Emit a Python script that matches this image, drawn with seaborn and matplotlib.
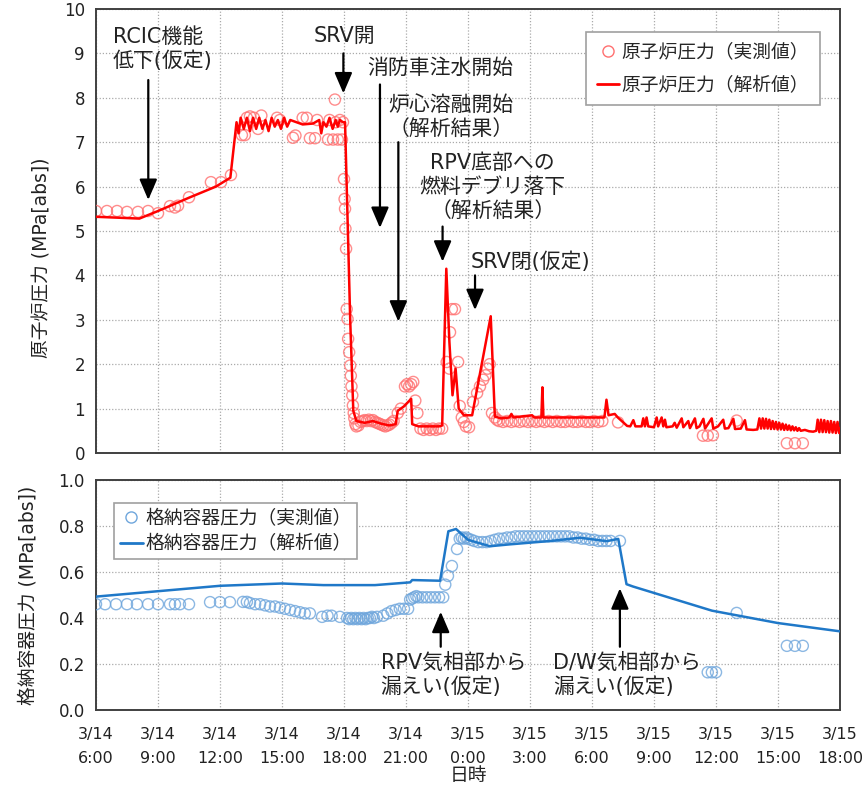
import numpy as np
import pandas as pd
import matplotlib
matplotlib.use("Agg")
import matplotlib.pyplot as plt
from matplotlib.lines import Line2D
import seaborn as sns

# ---------------- data (time in hours from 3/14 0:00) ----------------
xtick_hours = [6, 9, 12, 15, 18, 21, 24, 27, 30, 33, 36, 39, 42]
xtick_labels = ["3/14\n6:00", "3/14\n9:00", "3/14\n12:00", "3/14\n15:00", "3/14\n18:00",
                "3/14\n21:00", "3/15\n0:00", "3/15\n3:00", "3/15\n6:00", "3/15\n9:00",
                "3/15\n12:00", "3/15\n15:00", "3/15\n18:00"]

# reactor pressure, analysis
rpa_t = [6.0, 8.1, 9.0, 10.5, 11.8, 12.5, 12.8, 12.9, 13.0, 13.15, 13.3, 13.45, 13.6, 13.75,
         13.9, 14.05, 14.2, 14.35, 14.5, 14.65, 14.8, 14.95, 15.1, 15.25, 15.4, 15.7, 16.0,
         16.5, 16.8, 16.9, 17.0, 17.15, 17.3, 17.45, 17.6, 17.7, 17.8, 17.95, 18.05, 18.3,
         18.45, 18.6, 19.0, 19.4, 19.8, 20.2, 20.5, 20.6, 20.9, 21.25, 21.3, 21.6, 22.6,
         22.75, 22.95, 23.1, 23.25, 23.4, 23.55, 23.8, 24.2, 25.1, 25.3, 25.6, 26.0, 26.1,
         26.2, 27.1, 27.2, 27.55, 27.6, 27.65, 28.5, 29.5, 30.6, 30.7, 30.8, 31.1, 31.25,
         31.7, 31.85, 32.0, 32.1, 32.4, 32.48, 32.56, 32.64, 32.72, 33.0, 33.13, 33.2,
         33.37, 33.45, 33.53, 33.6, 33.9, 34.0, 34.1, 34.34, 34.42, 34.66, 34.74, 34.98,
         35.06, 35.2, 35.39, 35.47, 35.79, 35.87, 36.1, 36.35, 36.43, 36.6, 36.84, 36.92,
         37.2, 37.4, 37.48, 37.8, 38.0, 38.1, 38.18, 38.26, 38.34, 38.42, 38.5, 38.58,
         38.66, 38.74, 38.82, 38.9, 38.98, 39.06, 39.14, 39.22, 39.3, 39.38, 39.46, 39.54,
         39.62, 39.7, 39.78, 39.86, 39.94, 40.02, 40.1, 40.3, 40.5, 40.7, 40.85, 40.92,
         41.0, 41.08, 41.16, 41.24, 41.32, 41.4, 41.48, 41.56, 41.64, 41.72, 41.8, 41.88,
         41.96, 42.0]
rpa_v = [5.32, 5.28, 5.45, 5.75, 6.0, 6.2, 7.45, 7.2, 7.55, 7.3, 7.55, 7.25, 7.55, 7.3,
         7.55, 7.3, 7.5, 7.25, 7.55, 7.35, 7.5, 7.3, 7.55, 7.35, 7.5, 7.45, 7.4,
         7.42, 7.5, 7.2, 7.45, 7.35, 7.55, 7.3, 7.5, 7.35, 7.5, 7.45, 7.45, 3.0,
         0.95, 0.72, 0.68, 0.72, 0.66, 0.62, 0.65, 0.95, 1.05, 1.22, 0.65, 0.6, 0.6,
         0.62, 4.15, 2.5, 1.3, 1.9, 1.0, 0.85, 0.85, 3.08, 0.82, 0.78, 0.8, 0.88,
         0.8, 0.85, 0.8, 0.8, 1.48, 0.8, 0.8, 0.8, 0.8, 1.2, 0.85, 0.88, 0.8,
         0.61, 0.6, 0.74, 0.6, 0.6, 0.78, 0.6, 0.8, 0.6, 0.58, 0.8, 0.6,
         0.8, 0.6, 0.75, 0.58, 0.6, 0.68, 0.57, 0.78, 0.58, 0.72, 0.56, 0.78,
         0.56, 0.6, 0.77, 0.55, 0.78, 0.55, 0.6, 0.75, 0.55, 0.56, 0.77, 0.54,
         0.55, 0.74, 0.53, 0.52, 0.53, 0.78, 0.55, 0.78, 0.55, 0.77, 0.55, 0.75,
         0.54, 0.72, 0.54, 0.7, 0.53, 0.68, 0.53, 0.66, 0.52, 0.64, 0.52, 0.62,
         0.51, 0.6, 0.51, 0.58, 0.5, 0.56, 0.5, 0.52, 0.49, 0.48, 0.5, 0.75,
         0.47, 0.75, 0.47, 0.74, 0.47, 0.72, 0.46, 0.72, 0.46, 0.7, 0.45, 0.7,
         0.45, 0.55]

# reactor pressure, measured
rpm_t = [6.0, 6.53, 7.02, 7.5, 8.03, 8.52, 9.0, 9.58, 9.82, 9.97, 10.5, 11.56, 12.05, 12.53,
         13.06, 13.2, 13.3, 13.45, 13.64, 13.84, 14.0, 14.76, 14.9, 15.53, 15.65, 16.0, 16.2,
         16.35, 16.6, 16.7, 17.23, 17.3, 17.47, 17.56, 17.6, 17.7, 17.8, 17.9, 17.95,
         18.0, 18.03, 18.05, 18.07, 18.1, 18.13, 18.17, 18.2, 18.25, 18.3, 18.33, 18.36,
         18.4, 18.43, 18.47, 18.5, 18.55, 18.6,
         18.7, 18.8, 18.9, 19.0, 19.1, 19.2, 19.3, 19.4, 19.5, 19.6, 19.7, 19.8, 19.9, 20.0,
         20.1, 20.2, 20.3, 20.4, 20.6, 20.75, 20.95, 21.05, 21.15, 21.25, 21.35, 21.45, 21.55,
         21.7, 21.85, 22.0, 22.15, 22.3, 22.45, 22.6, 22.75,
         22.97, 23.1, 23.13, 23.22, 23.37, 23.52, 23.6, 23.7, 23.8, 23.9, 24.05,
         24.24, 24.44, 24.58, 24.73, 24.85, 24.95, 25.05, 25.16, 25.3, 25.4,
         25.5, 25.7, 25.9, 26.1, 26.3, 26.5, 26.7, 26.9, 27.1, 27.3, 27.5, 27.7, 27.9, 28.1,
         28.3, 28.5, 28.7, 28.9, 29.1, 29.3, 29.5, 29.7, 29.9, 30.1, 30.3, 30.5, 31.26,
         35.37, 35.6, 35.85, 37.0, 39.43, 39.82, 40.2]
rpm_v = [5.45, 5.45, 5.45, 5.43, 5.43, 5.45, 5.4, 5.56, 5.53, 5.57, 5.76, 6.1, 6.1, 6.26,
         7.16, 7.16, 7.55, 7.58, 7.55, 7.3, 7.6, 7.55, 7.5, 7.1, 7.15, 7.55, 7.55,
         7.09, 7.09, 7.5, 7.06, 7.5, 7.06, 7.96, 7.45, 7.06, 7.5, 7.06, 7.45,
         6.17, 5.72, 5.5, 5.05, 4.6, 3.24, 3.02, 2.57, 2.27, 1.97, 1.74, 1.5,
         1.3, 1.07, 0.9, 0.78, 0.65, 0.6,
         0.62, 0.7, 0.72, 0.74, 0.72, 0.75, 0.72, 0.74, 0.7, 0.68, 0.66, 0.64, 0.62, 0.6,
         0.62, 0.64, 0.68, 0.72, 0.9, 1.0, 1.5, 1.55, 1.5, 1.55, 1.6, 1.18, 0.9,
         0.55, 0.52, 0.55, 0.52, 0.55, 0.52, 0.55, 0.55,
         2.05, 1.9, 2.72, 3.24, 3.24, 2.05, 1.06, 0.8, 0.7, 0.6, 0.58,
         1.15, 1.35, 1.5, 1.65, 1.75, 1.9, 2.0, 0.9, 0.8, 0.75,
         0.72, 0.7, 0.72, 0.7, 0.72, 0.7, 0.72, 0.7, 0.72, 0.7, 0.72, 0.7, 0.72, 0.7,
         0.72, 0.7, 0.7, 0.72, 0.7, 0.7, 0.72, 0.7, 0.7, 0.72, 0.7, 0.72, 0.69,
         0.39, 0.39, 0.4, 0.73, 0.22, 0.22, 0.22]

# containment pressure, analysis
cpa_t = [6.0, 12.0, 15.0, 17.0, 19.5, 21.2, 21.3, 22.65, 23.05, 23.42, 24.0, 25.06, 26.0,
         28.0, 29.42, 30.71, 31.27, 31.67, 31.98, 35.8, 39.0, 42.0]
cpa_v = [0.493, 0.54, 0.55, 0.543, 0.543, 0.555, 0.565, 0.562, 0.777, 0.787, 0.74, 0.712, 0.72,
         0.735, 0.749, 0.734, 0.744, 0.547, 0.537, 0.432, 0.378, 0.342]

# containment pressure, measured
cpm_t = [6.0, 6.44, 6.97, 7.5, 7.98, 8.52, 9.0, 9.58, 9.82, 10.06, 10.5, 11.52, 12.0, 12.48,
         13.11, 13.3, 13.45, 13.7, 13.94, 14.18, 14.42, 14.66, 14.9, 15.14, 15.39, 15.63,
         15.87, 16.1, 16.35, 16.94, 17.2, 17.4, 17.8,
         18.15, 18.25, 18.35, 18.45, 18.55, 18.65, 18.75, 18.85, 18.95, 19.05, 19.15, 19.25,
         19.35, 19.45, 19.6, 19.9, 20.1, 20.3, 20.5, 20.7, 20.9, 21.1,
         21.2, 21.3, 21.4, 21.5, 21.6, 21.8, 22.0, 22.2, 22.4, 22.6, 22.8,
         22.9, 23.03, 23.22, 23.47, 23.6, 23.7, 23.8, 23.9, 24.0, 24.15, 24.3, 24.5, 24.7,
         24.9, 25.1, 25.3, 25.5, 25.7, 25.9, 26.1, 26.3, 26.5, 26.7, 26.9, 27.1, 27.3, 27.5,
         27.7, 27.9, 28.1, 28.3, 28.5, 28.7, 28.9, 29.1, 29.3, 29.5, 29.7, 29.9, 30.1, 30.3,
         30.5, 30.7, 30.9, 31.35,
         35.6, 35.8, 36.0, 37.0, 39.43, 39.82, 40.2]
cpm_v = [0.46, 0.46, 0.46, 0.46, 0.46, 0.46, 0.46, 0.46, 0.46, 0.46, 0.46, 0.469, 0.469, 0.469,
         0.47, 0.47, 0.465, 0.46, 0.46, 0.455, 0.45, 0.45, 0.445, 0.44, 0.435, 0.43,
         0.425, 0.42, 0.42, 0.405, 0.41, 0.41, 0.405,
         0.40, 0.395, 0.40, 0.395, 0.40, 0.395, 0.40, 0.395, 0.40, 0.395, 0.40, 0.40,
         0.405, 0.40, 0.405, 0.41, 0.42, 0.43, 0.435, 0.44, 0.44, 0.44,
         0.48, 0.485, 0.49, 0.495, 0.49, 0.49, 0.49, 0.49, 0.49, 0.49, 0.49,
         0.545, 0.583, 0.626, 0.70, 0.745, 0.75, 0.745, 0.75, 0.745, 0.74, 0.735, 0.73, 0.73,
         0.73, 0.735, 0.74, 0.745, 0.745, 0.75, 0.75, 0.755, 0.755, 0.755, 0.755, 0.755, 0.755, 0.755,
         0.755, 0.755, 0.755, 0.755, 0.755, 0.755, 0.755, 0.75, 0.75, 0.745, 0.745, 0.74, 0.74, 0.735,
         0.735, 0.735, 0.735, 0.735,
         0.164, 0.164, 0.164, 0.422, 0.279, 0.279, 0.279]

# ---------------- figure ----------------
sns.set_style("white")
plt.rcParams['font.family'] = ['DejaVu Sans', 'Noto Sans CJK JP']

W, H = 865, 793
fig = plt.figure(figsize=(W / 100, H / 100), dpi=100)
ax1 = fig.add_axes([96 / W, 1 - 453 / H, 744 / W, 444 / H])
ax2 = fig.add_axes([96 / W, 1 - 710 / H, 744 / W, 230 / H])

RED = "#FF0000"
RED_M = "#FF7070"
BLUE = "#1F78C8"
BLUE_M = "#6FA6DC"

df_rpa = pd.DataFrame({"t": rpa_t, "v": rpa_v})
df_rpm = pd.DataFrame({"t": rpm_t, "v": rpm_v})
df_cpa = pd.DataFrame({"t": cpa_t, "v": cpa_v})
df_cpm = pd.DataFrame({"t": cpm_t, "v": cpm_v})

sns.scatterplot(data=df_rpm, x="t", y="v", ax=ax1, marker="o", s=64,
                facecolor="none", edgecolor=RED_M, linewidth=1.0, alpha=0.8, zorder=3)
sns.lineplot(data=df_rpa, x="t", y="v", ax=ax1, color=RED, linewidth=1.8,
             estimator=None, sort=False, zorder=4)
sns.scatterplot(data=df_cpm, x="t", y="v", ax=ax2, marker="o", s=64,
                facecolor="none", edgecolor=BLUE_M, linewidth=1.0, alpha=0.8, zorder=3)
sns.lineplot(data=df_cpa, x="t", y="v", ax=ax2, color=BLUE, linewidth=1.8,
             estimator=None, sort=False, zorder=4)

for ax in (ax1, ax2):
    ax.set_xlim(6, 42)
    ax.set_xticks(xtick_hours)
    ax.grid(True, linestyle=(0, (1, 1.5)), color="#aaaaaa", linewidth=0.9)
    for sp in ax.spines.values():
        sp.set_color("#404040")
        sp.set_linewidth(1.4)
    ax.tick_params(axis="y", direction="in", length=4, width=1, color="#404040",
                   labelsize=12, pad=8, labelcolor="#222222")
    ax.tick_params(axis="x", length=0, labelsize=11.5, pad=12, labelcolor="#222222")
    ax.set_xlabel("")
    ax.set_ylabel("")

ax1.set_ylim(0, 10)
ax1.set_yticks(range(0, 11))
ax1.set_xticklabels([])
ax2.set_ylim(0, 1.0)
ax2.set_yticks([0, 0.2, 0.4, 0.6, 0.8, 1.0])
ax2.set_yticklabels(["0.0", "0.2", "0.4", "0.6", "0.8", "1.0"])
ax2.set_xticklabels(xtick_labels, linespacing=1.8)

ax1.set_ylabel("原子炉圧力 (MPa[abs])", fontsize=13.5, color="#222222")
ax1.yaxis.set_label_coords(-0.06, 0.44)
ax2.set_ylabel("格納容器圧力 (MPa[abs])", fontsize=13.5, color="#222222")
ax2.yaxis.set_label_coords(-0.078, 0.5)
ax2.set_xlabel("日時", fontsize=13.5, color="#222222")
ax2.xaxis.set_label_coords(0.5, (710 - 766) / 230)

# legends
h1 = [Line2D([], [], marker="o", linestyle="none", markerfacecolor="none",
             markeredgecolor=RED_M, markersize=8),
      Line2D([], [], color=RED, linewidth=2)]
leg1 = ax1.legend(h1, ["原子炉圧力（実測値）", "原子炉圧力（解析値）"], loc="upper right",
                  bbox_to_anchor=((829 - 96) / 744, (453 - 23) / 444), fontsize=13.5,
                  frameon=True, fancybox=False, edgecolor="#a0a0a0", framealpha=1,
                  handlelength=1.2, handletextpad=0.15, borderpad=0.55, labelspacing=0.75)
leg1.get_frame().set_linewidth(1.2)
h2 = [Line2D([], [], marker="o", linestyle="none", markerfacecolor="none",
             markeredgecolor=BLUE_M, markersize=8),
      Line2D([], [], color=BLUE, linewidth=2)]
leg2 = ax2.legend(h2, ["格納容器圧力（実測値）", "格納容器圧力（解析値）"], loc="upper left",
                  bbox_to_anchor=((105 - 96) / 744, (710 - 494) / 230), fontsize=13.5,
                  frameon=True, fancybox=False, edgecolor="#a0a0a0", framealpha=1,
                  handlelength=1.2, handletextpad=0.15, borderpad=0.3, labelspacing=0.35)
leg2.get_frame().set_linewidth(1.2)

# annotations
TXT = dict(fontsize=15, color="#222222")
AP = dict(arrowstyle="-|>,head_length=0.7,head_width=0.3", color="black", lw=1.6,
          mutation_scale=18, shrinkA=0, shrinkB=0)


def arrow(ax, x, y0, y1):
    ax.annotate("", xy=(x, y1), xytext=(x, y0), arrowprops=AP, zorder=6)


ax1.text(6.82, 9.1, "RCIC機能\n低下(仮定)", ha="left", va="center", linespacing=1.25, **TXT)
arrow(ax1, 8.53, 8.4, 5.7)
ax1.text(18.0, 9.39, "SRV開", ha="center", va="center", **TXT)
arrow(ax1, 17.97, 9.0, 8.1)
ax1.text(22.64, 8.67, "消防車注水開始", ha="center", va="center", **TXT)
arrow(ax1, 19.74, 8.3, 5.07)
ax1.text(23.18, 7.57, "炉心溶融開始\n（解析結果）", ha="center", va="center",
         linespacing=1.25, **TXT)
arrow(ax1, 20.63, 7.0, 2.96)
ax1.text(25.2, 6.0, "RPV底部への\n燃料デブリ落下\n（解析結果）", ha="center", va="center",
         linespacing=1.25, **TXT)
arrow(ax1, 22.77, 5.1, 4.31)
ax1.text(27.0, 4.3, "SRV閉(仮定)", ha="center", va="center", **TXT)
arrow(ax1, 24.34, 4.0, 3.22)

ax2.text(19.77, 0.152, "RPV気相部から\n漏えい(仮定)", ha="left", va="center",
         linespacing=1.25, **TXT)
arrow(ax2, 22.68, 0.275, 0.427)
ax2.text(28.13, 0.152, "D/W気相部から\n漏えい(仮定)", ha="left", va="center",
         linespacing=1.25, **TXT)
arrow(ax2, 31.35, 0.275, 0.529)

fig.savefig("out.png", dpi=100, facecolor="white")
